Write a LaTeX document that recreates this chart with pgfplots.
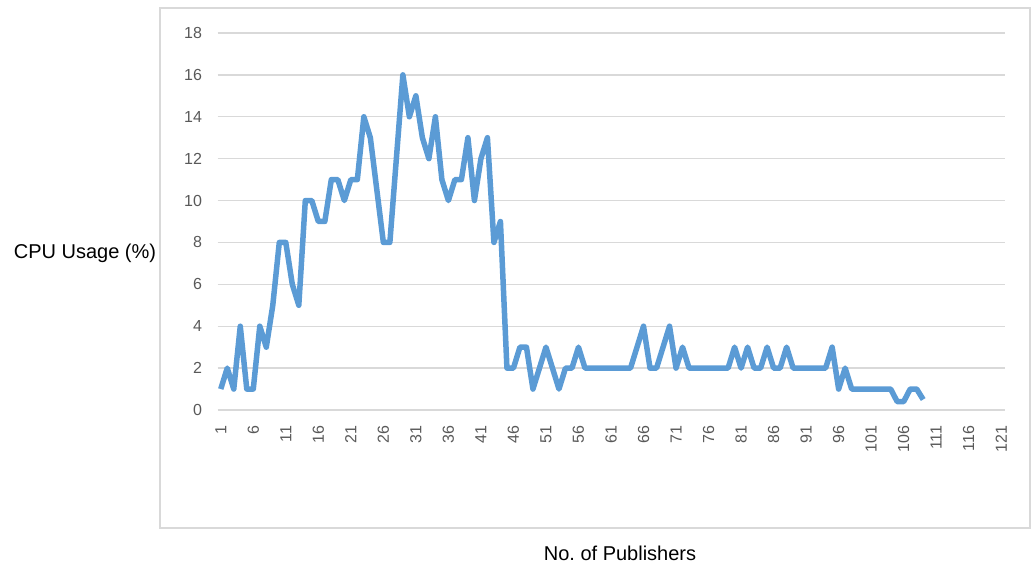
\documentclass[border=0pt]{standalone}
\usepackage{fontspec}
\setmainfont{Liberation Sans}
\usepackage{pgfplots}
\pgfplotsset{compat=1.18}
\definecolor{linecol}{HTML}{5B9BD5}
\definecolor{gridcol}{HTML}{D9D9D9}
\definecolor{tickcol}{HTML}{595959}
\definecolor{framecol}{HTML}{D9D9D9}
\begin{document}
\begin{tikzpicture}[x=1pt,y=1pt]
\path (0,0) rectangle (1036,564);
\draw[framecol, line width=1.2pt] (160,36) rectangle (1030,556);
\begin{axis}[
  at={(217.5pt,154pt)}, anchor=south west,
  width=787pt, height=377pt, scale only axis,
  xmin=0.5, xmax=121.5, ymin=0, ymax=18,
  xtick={1,6,...,121}, ytick={0,2,...,18},
  axis line style={draw=none},
  major tick length=0pt,
  ymajorgrids, grid style={gridcol, line width=1.3pt},
  /pgf/number format/assume math mode=true,
  tick label style={font=\fontsize{16}{17}\selectfont, text=tickcol},
  yticklabel style={anchor=east, xshift=-12pt},
  xticklabel style={rotate=90, anchor=east, xshift=-12pt},
  clip=false,
]
\addplot[linecol, line width=5.5pt, line join=round, mark=none] coordinates {
(1,1)(2,2)(3,1)(4,4)(5,1)(6,1)(7,4)(8,3)(9,5)(10,8)
(11,8)(12,6)(13,5)(14,10)(15,10)(16,9)(17,9)(18,11)(19,11)(20,10)
(21,11)(22,11)(23,14)(24,13)(25,10.5)(26,8)(27,8)(28,12)(29,16)(30,14)
(31,15)(32,13)(33,12)(34,14)(35,11)(36,10)(37,11)(38,11)(39,13)(40,10)
(41,12)(42,13)(43,8)(44,9)(45,2)(46,2)(47,3)(48,3)(49,1)(50,2)
(51,3)(52,2)(53,1)(54,2)(55,2)(56,3)(57,2)(58,2)(59,2)(60,2)
(61,2)(62,2)(63,2)(64,2)(65,3)(66,4)(67,2)(68,2)(69,3)(70,4)
(71,2)(72,3)(73,2)(74,2)(75,2)(76,2)(77,2)(78,2)(79,2)(80,3)
(81,2)(82,3)(83,2)(84,2)(85,3)(86,2)(87,2)(88,3)(89,2)(90,2)
(91,2)(92,2)(93,2)(94,2)(95,3)(96,1)(97,2)(98,1)(99,1)(100,1)
(101,1)(102,1)(103,1)(104,1)(105,0.4)(106,0.4)(107,1)(108,1)(109,0.5)
};
\end{axis}
\node[font=\fontsize{20}{22}\selectfont] at (85,311) {CPU Usage (\%)};
\node[font=\fontsize{20}{22}\selectfont] at (620,11) {No.\ of Publishers};
\end{tikzpicture}
\end{document}
